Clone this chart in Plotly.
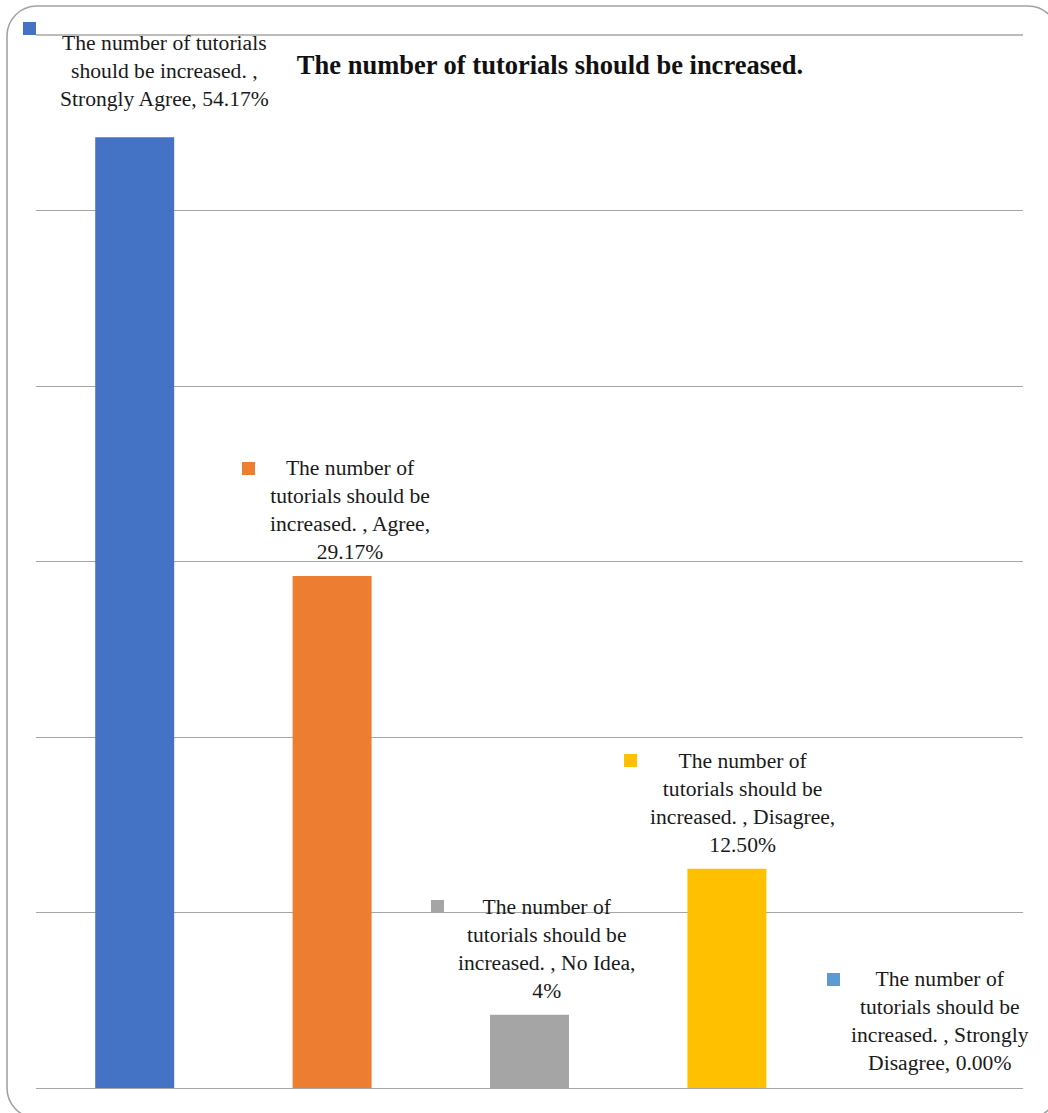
import plotly.graph_objects as go

# ---- data ----
categories = ["Strongly Agree", "Agree", "No Idea", "Disagree", "Strongly Disagree"]
values = [54.17, 29.17, 4.17, 12.50, 0.00]
value_labels = ["54.17%", "29.17%", "4%", "12.50%", "0.00%"]
colors = ["#4472C4", "#ED7D31", "#A5A5A5", "#FFC000", "#5B9BD5"]
series_name = "The number of tutorials should be increased."

# label text lines (as shown in the chart)
label_texts = [
    "The number of tutorials<br>should be increased. ,<br>Strongly Agree, 54.17%",
    "The number of<br>tutorials should be<br>increased. , Agree,<br>29.17%",
    "The number of<br>tutorials should be<br>increased. , No Idea,<br>4%",
    "The number of<br>tutorials should be<br>increased. , Disagree,<br>12.50%",
    "The number of<br>tutorials should be<br>increased. , Strongly<br>Disagree, 0.00%",
]

W, H = 1048, 1113
ML, MR, MT, MB = 36, 25, 35, 25
PW, PH = W - ML - MR, H - MT - MB

def px(xp):
    return (xp - ML) / PW

def py(yp):
    return (H - MB - yp) / PH

xs = list(range(len(categories)))

fig = go.Figure()
fig.add_trace(go.Bar(
    x=xs, y=values, width=0.4,
    marker=dict(color=colors, line=dict(width=0)),
    name=series_name, showlegend=False, hoverinfo="skip",
))

FONT = "Liberation Serif"

# label layout: (text x shift px, text y shift px from bar top, square x shift, square y shift)
label_layout = [
    (30, 24, -105, 108.5),
    (18, 10, -84, 108),
    (16.5, 10, -92, 108),
    (16, 10, -96.5, 108.5),
    (16, 11, -91, 108.5),
]

annotations = []
shapes = []
for i, (txt, v, c) in enumerate(zip(label_texts, values, colors)):
    tx, ty, sx, sy = label_layout[i]
    annotations.append(dict(
        x=xs[i], y=v, xref="x", yref="y", text=txt, showarrow=False,
        xanchor="center", yanchor="bottom", xshift=tx, yshift=ty,
        align="center", font=dict(family=FONT, size=21.6, color="#1a1a1a"),
    ))
    # legend-key square
    annotations.append(dict(
        x=xs[i], y=v, xref="x", yref="y", text=" ", showarrow=False,
        xanchor="center", yanchor="middle", xshift=sx, yshift=sy,
        width=13, height=13, bgcolor=c, borderpad=0, borderwidth=0,
        font=dict(size=8),
    ))

# top gridline (at the upper edge of the value range)
shapes.append(dict(type="line", xref="paper", yref="paper", x0=0, x1=1, y0=1, y1=1,
                   line=dict(color="#a6a6a6", width=1.3)))

# outer rounded frame
L, T, R, B, r = 7, 6, 1058, 1118, 30
k = 0.5523 * r
path = (
    f"M {px(L)},{py(T + r)} "
    f"C {px(L)},{py(T + r - k)} {px(L + r - k)},{py(T)} {px(L + r)},{py(T)} "
    f"L {px(R - r)},{py(T)} "
    f"C {px(R - r + k)},{py(T)} {px(R)},{py(T + r - k)} {px(R)},{py(T + r)} "
    f"L {px(R)},{py(B - r)} "
    f"C {px(R)},{py(B - r + k)} {px(R - r + k)},{py(B)} {px(R - r)},{py(B)} "
    f"L {px(L + r)},{py(B)} "
    f"C {px(L + r - k)},{py(B)} {px(L)},{py(B - r + k)} {px(L)},{py(B - r)} Z"
)
shapes.append(dict(type="path", xref="paper", yref="paper", path=path,
                   line=dict(color="#a3a3a3", width=1.6), fillcolor="rgba(0,0,0,0)",
                   layer="below"))

fig.update_layout(
    width=W, height=H,
    margin=dict(l=ML, r=MR, t=MT, b=MB, pad=0),
    paper_bgcolor="white", plot_bgcolor="white",
    title=dict(text="<b>" + series_name + "</b>", x=550 / W, y=1 - 65 / H,
               xanchor="center", yanchor="middle",
               font=dict(family=FONT, size=26.5, color="#111111")),
    xaxis=dict(range=[-0.5, 4.5], showticklabels=False, showgrid=False,
               zeroline=False, showline=False, ticks=""),
    yaxis=dict(range=[0, 60], dtick=10, showticklabels=False, showgrid=True,
               gridcolor="#a6a6a6", gridwidth=1.3, zeroline=True,
               zerolinecolor="#a6a6a6", zerolinewidth=1.3, showline=False, ticks=""),
    annotations=annotations,
    shapes=shapes,
    bargap=0.6,
)

fig.write_html("out.html")
